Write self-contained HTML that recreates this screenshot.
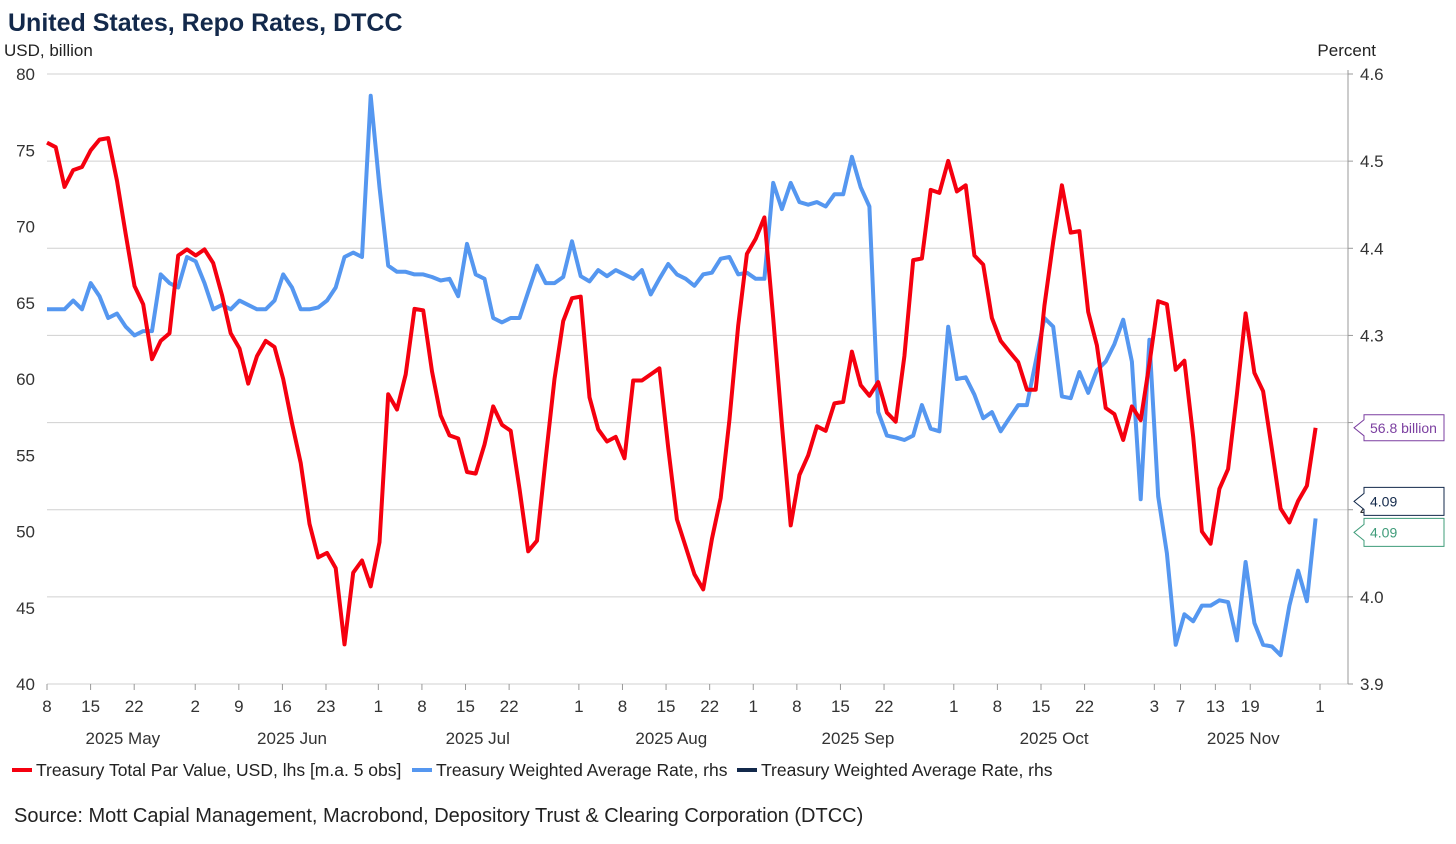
<!DOCTYPE html>
<html><head><meta charset="utf-8">
<style>
body{margin:0;background:#fff;font-family:"Liberation Sans",Arial,sans-serif;}
svg text{font-family:"Liberation Sans",Arial,sans-serif;}
</style></head>
<body>
<svg id="chart" width="1456" height="839" viewBox="0 0 1456 839" xmlns="http://www.w3.org/2000/svg">
<rect width="1456" height="839" fill="#fff"/>
<text x="8" y="31" font-size="25" font-weight="bold" fill="#13294b">United States, Repo Rates, DTCC</text>
<text x="4" y="56" font-size="17" fill="#222">USD, billion</text>
<text x="1376" y="56" font-size="17" fill="#222" text-anchor="end">Percent</text>
<g id="grid"></g>
<g id="axes"></g>
<g id="series"></g>
<g id="notes"></g>
<g>
<line x1="12" y1="770" x2="32" y2="770" stroke="#f5000f" stroke-width="4"/>
<text x="36" y="776" font-size="17.5" fill="#222">Treasury Total Par Value, USD, lhs [m.a. 5 obs]</text>
<line x1="412" y1="770" x2="432" y2="770" stroke="#5597f0" stroke-width="4"/>
<text x="436" y="776" font-size="17.5" fill="#222">Treasury Weighted Average Rate, rhs</text>
<line x1="737" y1="770" x2="757" y2="770" stroke="#13294b" stroke-width="4"/>
<text x="761" y="776" font-size="17.5" fill="#222">Treasury Weighted Average Rate, rhs</text>
</g>
<text x="14" y="822" font-size="20" fill="#222">Source: Mott Capial Management, Macrobond, Depository Trust &amp; Clearing Corporation (DTCC)</text>
</svg>
<script>
const parValue=[75.5,75.2,72.6,73.7,73.9,75.0,75.7,75.8,73.0,69.5,66.1,64.9,61.3,62.5,63.0,68.1,68.5,68.1,68.5,67.6,65.5,63.0,62.0,59.7,61.5,62.5,62.1,60.0,57.1,54.5,50.5,48.3,48.6,47.6,42.6,47.3,48.1,46.4,49.3,59.0,58.0,60.3,64.6,64.5,60.5,57.6,56.3,56.1,53.9,53.8,55.7,58.2,57.0,56.6,52.8,48.7,49.4,54.8,60.0,63.8,65.3,65.4,58.8,56.7,55.9,56.2,54.8,59.9,59.9,60.3,60.7,55.5,50.8,49.0,47.2,46.2,49.5,52.2,57.3,63.5,68.2,69.2,70.6,64.0,57.0,50.4,53.7,55.0,56.9,56.6,58.4,58.5,61.8,59.6,58.9,59.8,57.8,57.2,61.5,67.8,67.9,72.4,72.2,74.3,72.3,72.7,68.1,67.5,64.0,62.5,61.8,61.1,59.3,59.3,64.8,69.0,72.7,69.6,69.7,64.4,62.2,58.1,57.7,56.0,58.2,57.3,61.0,65.1,64.9,60.6,61.2,56.2,50.0,49.2,52.8,54.1,59.0,64.3,60.4,59.2,55.4,51.5,50.6,52.0,53.0,56.8];
const rateValue=[4.33,4.33,4.33,4.34,4.33,4.36,4.345,4.32,4.325,4.31,4.30,4.305,4.305,4.37,4.36,4.355,4.39,4.385,4.36,4.33,4.335,4.33,4.34,4.335,4.33,4.33,4.34,4.37,4.355,4.33,4.33,4.332,4.34,4.355,4.39,4.395,4.39,4.575,4.47,4.38,4.373,4.373,4.37,4.37,4.367,4.363,4.365,4.345,4.405,4.37,4.365,4.32,4.315,4.32,4.32,4.35,4.38,4.36,4.36,4.367,4.408,4.368,4.362,4.375,4.368,4.375,4.37,4.365,4.375,4.347,4.365,4.382,4.37,4.365,4.357,4.37,4.372,4.388,4.39,4.37,4.372,4.365,4.365,4.475,4.445,4.475,4.453,4.45,4.453,4.448,4.462,4.462,4.505,4.47,4.448,4.212,4.185,4.183,4.18,4.185,4.22,4.193,4.19,4.31,4.25,4.252,4.232,4.205,4.212,4.19,4.205,4.22,4.22,4.27,4.32,4.31,4.23,4.228,4.258,4.234,4.26,4.27,4.29,4.318,4.27,4.112,4.295,4.115,4.05,3.945,3.98,3.972,3.99,3.99,3.996,3.994,3.95,4.04,3.97,3.945,3.943,3.933,3.99,4.03,3.995,4.09];
const xTickIdx=[0,5,10,17,22,27,32,38,43,48,53,61,66,71,76,81,86,91,96,104,109,114,119,127,130,134,138,146];
const xTickLabels=["8","15","22","2","9","16","23","1","8","15","22","1","8","15","22","1","8","15","22","1","8","15","22","3","7","13","19","1"];
const monthLabels=["2025 May","2025 Jun","2025 Jul","2025 Aug","2025 Sep","2025 Oct","2025 Nov"];
const monthIdx=[8.7,28.1,49.4,71.6,93,115.5,137.2];
const leftTicks=[40,45,50,55,60,65,70,75,80];
const rightTicks=[3.9,4.0,4.1,4.2,4.3,4.4,4.5,4.6];

const X0=47,X1=1320,NMAX=146,TOP=74,BOT=684,RIGHT=1348;
const xS=i=>X0+(X1-X0)*i/NMAX;
const xD=i=>xS(i*145.5/145);
const yL=v=>BOT-(v-40)/(80-40)*(BOT-TOP);
const yR=v=>BOT-(v-3.9)/(4.6-3.9)*(BOT-TOP);
const NS="http://www.w3.org/2000/svg";
function mk(tag,attrs,parent){const e=document.createElementNS(NS,tag);for(const k in attrs)e.setAttribute(k,attrs[k]);parent.appendChild(e);return e;}
const grid=document.getElementById('grid'),axes=document.getElementById('axes'),series=document.getElementById('series'),notes=document.getElementById('notes');
rightTicks.forEach(t=>{
 const y=yR(t);
 const l=mk('line',{x1:X0,x2:RIGHT,y1:y,y2:y,stroke:'#d0d0d0','stroke-width':1},grid);
 
 
 mk('line',{x1:RIGHT,x2:RIGHT+5,y1:y,y2:y,stroke:'#999'},axes);
 const tx=mk('text',{x:1360,y:y+6,'font-size':17,fill:'#333'},axes);
 tx.textContent=t.toFixed(1);
 
 
});
mk('line',{x1:RIGHT,x2:RIGHT,y1:TOP-4,y2:BOT,stroke:'#999'},axes);
leftTicks.forEach(t=>{
 const tx=mk('text',{x:35,y:yL(t)+6,'font-size':17,fill:'#333','text-anchor':'end'},axes);
 tx.textContent=t;
 
 
});
xTickIdx.forEach((ix,k)=>{
 const x=xS(ix);
 mk('line',{x1:x,x2:x,y1:BOT,y2:BOT+6,stroke:'#999'},axes);
 const tx=mk('text',{x:x,y:BOT+28,'font-size':17,fill:'#333','text-anchor':'middle'},axes);
 tx.textContent=xTickLabels[k];
 
 
});
monthIdx.forEach((ix,k)=>{
 const tx=mk('text',{x:xS(ix),y:BOT+60,'font-size':17,fill:'#333','text-anchor':'middle'},axes);
 tx.textContent=monthLabels[k];
 
 
});
function line(vals,ys,color,name){
 const d=vals.map((v,i)=>(i?'L':'M')+xD(i).toFixed(1)+','+ys(v).toFixed(1)).join('');
 const p=mk('path',{d:d,fill:'none',stroke:color,'stroke-width':4,'stroke-linejoin':'round'},series);
 
 
}
line(rateValue,yR,'#5597f0','rate-line');
line(parValue,yL,'#f5000f','par-value-line');
function note(y,label,color,name,h){
 const x=1354;
 const g=mk('g',{},notes);
 
 
 mk('path',{d:`M${x},${y} L${x+10},${y-8} L${x+10},${y-h/2} L1444,${y-h/2} L1444,${y+h/2} L${x+10},${y+h/2} L${x+10},${y+8} Z`,fill:'#fff',stroke:color},g);
 const t=mk('text',{x:x+16,y:y+5,'font-size':14,fill:color},g);
 t.textContent=label;
}
const lastPar=parValue[parValue.length-1],lastRate=rateValue[rateValue.length-1];
note(yL(lastPar),lastPar.toFixed(1)+' billion','#7b3fa0','par-value-annotation',26);
note(yR(lastRate)-17,lastRate.toFixed(2),'#13294b','rate-annotation',28);
note(yR(lastRate)+14,lastRate.toFixed(2),'#3f9c7a','rate-annotation-2',28);
</script>
</body></html>
